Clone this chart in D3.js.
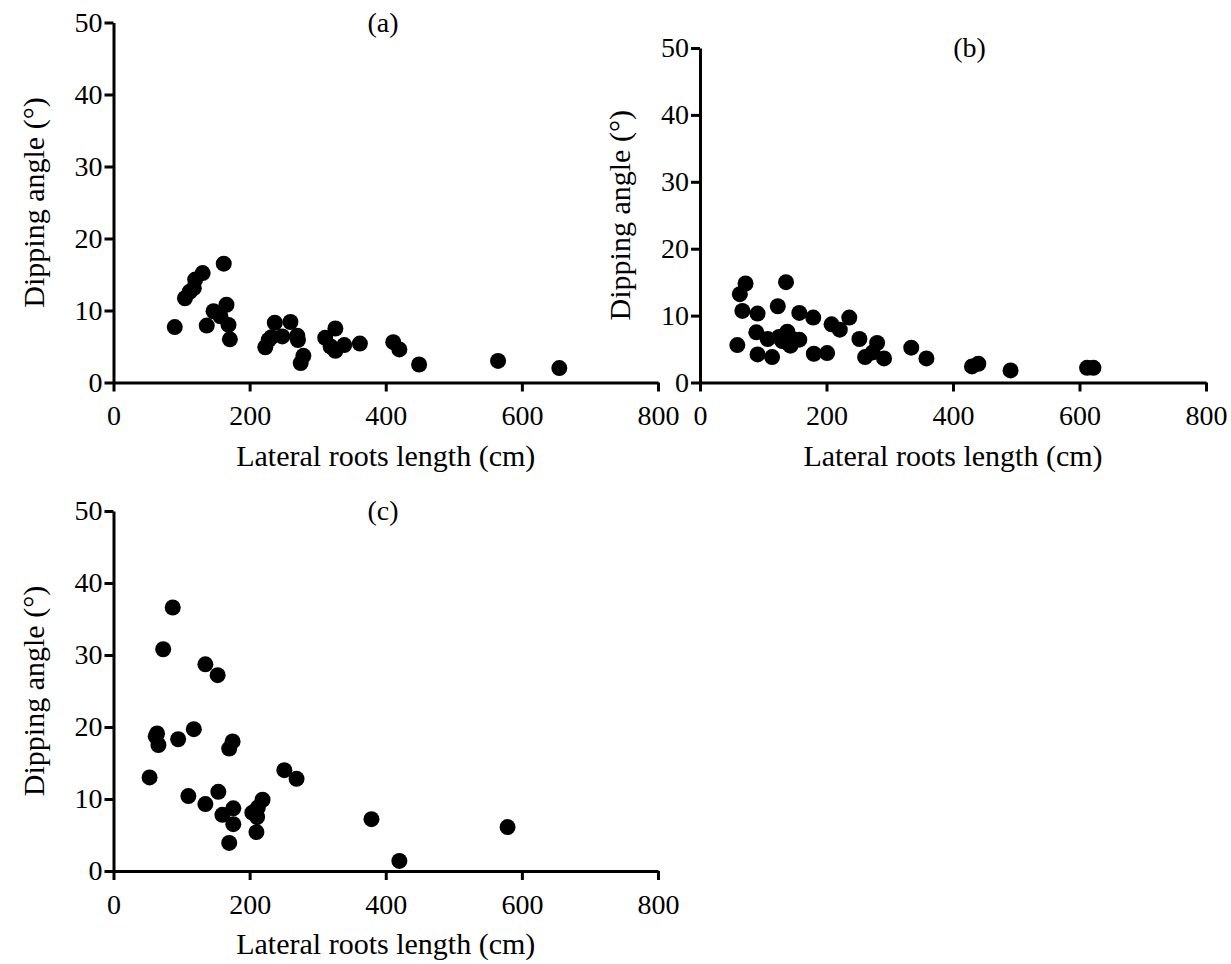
<!DOCTYPE html>
<html>
<head>
<meta charset="utf-8">
<script src="https://cdn.jsdelivr.net/npm/d3@7"></script>
<style>
  body { margin: 0; background: #fff; }
</style>
</head>
<body>
<script>
var FONT = "'Liberation Serif', 'Times New Roman', Times, 'DejaVu Serif', serif"

// tick values shared by the three panels
var xTicks = [0, 200, 400, 600, 800]
var yTicks = [0, 10, 20, 30, 40, 50]

// panel (a)
var lenA = [90, 105, 112, 118, 120, 131, 137, 147, 157, 162, 166, 169, 171, 223, 228, 232, 237, 248, 260, 270, 271, 275, 279, 311, 319, 326, 326, 339, 362, 411, 420, 449, 565, 655]
var angA = [7.7, 11.7, 12.6, 13.1, 14.3, 15.2, 7.9, 9.9, 9.2, 16.5, 10.8, 8.0, 6.0, 4.9, 5.9, 6.3, 8.3, 6.4, 8.4, 6.5, 5.9, 2.7, 3.7, 6.2, 5.0, 7.5, 4.4, 5.2, 5.4, 5.6, 4.6, 2.5, 3.0, 2.0]

// panel (b)
var lenB = [59, 63, 72, 67, 91, 89, 91, 107, 114, 123, 125, 130, 136, 138, 137, 143, 146, 157, 157, 179, 180, 201, 208, 221, 236, 252, 261, 273, 280, 291, 334, 358, 430, 440, 491, 612, 622]
var angB = [5.6, 13.2, 14.8, 10.7, 10.3, 7.5, 4.2, 6.5, 3.8, 11.4, 6.8, 6.2, 15.0, 7.6, 6.0, 5.5, 6.5, 6.4, 10.4, 9.7, 4.3, 4.4, 8.7, 7.9, 9.7, 6.5, 3.8, 4.5, 5.9, 3.6, 5.2, 3.6, 2.4, 2.8, 1.8, 2.2, 2.2]

// panel (c)
var lenC = [53, 62, 64, 66, 73, 87, 95, 110, 118, 135, 135, 153, 154, 160, 170, 175, 170, 176, 176, 204, 210, 211, 212, 219, 251, 269, 379, 420, 579]
var angC = [13.0, 18.7, 19.1, 17.5, 30.8, 36.6, 18.3, 10.4, 19.7, 28.7, 9.3, 27.2, 11.0, 7.8, 17.0, 18.0, 3.9, 8.7, 6.5, 8.1, 5.4, 7.5, 8.8, 9.9, 14.0, 12.8, 7.2, 1.4, 6.1]

var svg = d3.select('body').append('svg')
	.attr('width', 1231)
	.attr('height', 964)
	.style('font-family', FONT)

function panel(title, xs, ys, left, right, bottom, top) {
	var xScale = d3.scaleLinear().domain([0, 800]).range([left, right])
	var yScale = d3.scaleLinear().domain([0, 50]).range([bottom, top])
	var g = svg.append('g')

	// x axis
	var xg = g.append('g')
		.attr('transform', 'translate(0,' + bottom + ')')
		.call(d3.axisBottom(xScale).tickValues(xTicks).tickSize(9).tickSizeOuter(0).tickPadding(14))
	// y axis
	var yg = g.append('g')
		.attr('transform', 'translate(' + left + ',0)')
		.call(d3.axisLeft(yScale).tickValues(yTicks).tickSize(9).tickSizeOuter(0).tickPadding(2))

	g.selectAll('.domain, .tick line')
		.attr('stroke', '#000')
		.attr('stroke-width', 3)
	g.selectAll('.tick text')
		.attr('font-family', null)
		.style('font-family', FONT)
		.style('font-size', '28px')
		.attr('fill', '#000')
	xg.attr('font-family', null)
	yg.attr('font-family', null)

	// dots
	g.selectAll('circle')
		.data(xs)
		.enter()
		.append('circle')
		.attr('cx', function (d) { return xScale(d) })
		.attr('cy', function (d, i) { return yScale(ys[i]) })
		.attr('r', 8)
		.attr('fill', '#000')

	// labels
	g.append('text')
		.attr('x', (left + right) / 2)
		.attr('y', bottom + 83)
		.style('font-family', FONT)
		.style('font-size', '30px')
		.style('text-anchor', 'middle')
		.text('Lateral roots length (cm)')
	g.append('text')
		.attr('transform', 'translate(' + (left - 70) + ',' + (bottom + top) / 2 + ') rotate(-90)')
		.style('font-family', FONT)
		.style('font-size', '30px')
		.style('text-anchor', 'middle')
		.text('Dipping angle (°)')
	g.append('text')
		.attr('x', 383 + (left - 113.5))
		.attr('y', top + 9)
		.style('font-family', FONT)
		.style('font-size', '28px')
		.style('text-anchor', 'middle')
		.text(title)
}

panel('(a)', lenA, angA, 113.5, 658, 382.5, 22.5)
panel('(b)', lenB, angB, 700, 1206, 382.5, 48)
panel('(c)', lenC, angC, 113.5, 658, 871, 511)
</script>
</body>
</html>
